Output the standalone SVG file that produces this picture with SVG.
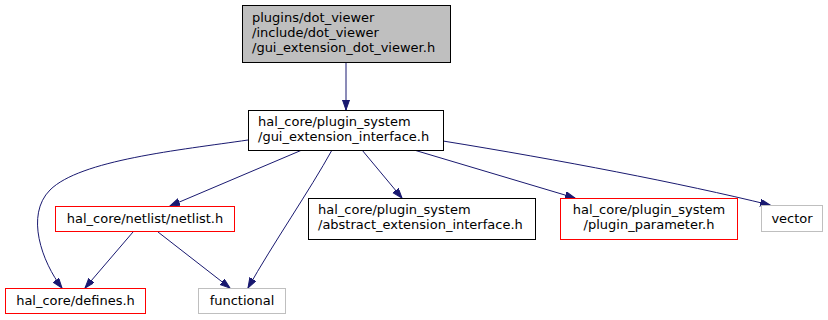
<svg xmlns="http://www.w3.org/2000/svg" width="828" height="320" viewBox="0 0 828 320">
<defs>
<style>
text{font-family:"DejaVu Sans",sans-serif;font-size:13px;fill:#000}
.n rect{fill:#fff;stroke:#000;stroke-width:1}
.red rect{stroke:#ff0000}
.gray rect{stroke:#bfbfbf}
.c{text-anchor:middle}
.e path{fill:none;stroke:#191970;stroke-width:1}
</style>
<marker id="ah" markerUnits="userSpaceOnUse" markerWidth="11" markerHeight="8" refX="10" refY="3.5" orient="auto">
<path d="M0,0 L10,3.5 L0,7 z" fill="#191970" stroke="#191970" stroke-width="1"/>
</marker>
</defs>
<rect width="828" height="320" fill="#fff"/>
<g id="edges" class="e">
<path d="M346,62 L346,110" marker-end="url(#ah)"/>
<path d="M248,140 C180,150 80,160 50,190 C25,215 42,262 62,288" marker-end="url(#ah)"/>
<path d="M302,150 L170,206" marker-end="url(#ah)"/>
<path d="M332,150 C310,190 272,245 248,288" marker-end="url(#ah)"/>
<path d="M362,150 L402,198" marker-end="url(#ah)"/>
<path d="M414,150 L575,198" marker-end="url(#ah)"/>
<path d="M443,141 C560,160 680,183 770,205" marker-end="url(#ah)"/>
<path d="M133,232 L85,288" marker-end="url(#ah)"/>
<path d="M158,232 L230,288" marker-end="url(#ah)"/>
</g>
<g id="node_top" class="n">
<rect x="242.5" y="5.5" width="208" height="57" style="fill:#bfbfbf"/>
<text x="252" y="22">plugins/dot_viewer</text>
<text x="252" y="37">/include/dot_viewer</text>
<text x="252" y="52">/gui_extension_dot_viewer.h</text>
</g>
<g id="node_gui" class="n">
<rect x="248.5" y="110.5" width="195" height="40"/>
<text x="258" y="126">hal_core/plugin_system</text>
<text x="258" y="141">/gui_extension_interface.h</text>
</g>
<g id="node_netlist" class="n red">
<rect x="55.5" y="206.5" width="179" height="25"/>
<text class="c" x="145" y="223">hal_core/netlist/netlist.h</text>
</g>
<g id="node_defines" class="n red">
<rect x="5.5" y="288.5" width="140" height="25"/>
<text class="c" x="75.5" y="305">hal_core/defines.h</text>
</g>
<g id="node_functional" class="n gray">
<rect x="198.5" y="288.5" width="87" height="25"/>
<text class="c" x="242" y="305">functional</text>
</g>
<g id="node_abstract" class="n">
<rect x="308.5" y="198.5" width="227" height="41"/>
<text x="318" y="214">hal_core/plugin_system</text>
<text x="318" y="229">/abstract_extension_interface.h</text>
</g>
<g id="node_param" class="n red">
<rect x="560.5" y="198.5" width="177" height="41"/>
<text class="c" x="649" y="214">hal_core/plugin_system</text>
<text class="c" x="649" y="229">/plugin_parameter.h</text>
</g>
<g id="node_vector" class="n gray">
<rect x="761.5" y="205.5" width="61" height="26"/>
<text class="c" x="792" y="223">vector</text>
</g>
</svg>
